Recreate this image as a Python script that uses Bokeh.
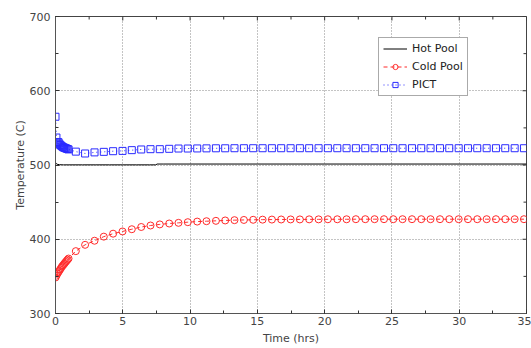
import math
from bokeh.plotting import figure
from bokeh.models import Range1d, SingleIntervalTicker, Legend, LegendItem
from bokeh.embed import file_html
from bokeh.resources import INLINE

# ---- data ----
hot_t = [0.0, 0.05, 0.12, 0.3, 0.6, 1.0, 2.0, 3.0, 4.0, 5.0, 6.0, 7.0, 7.45, 7.55, 8.0, 10.0, 15.0, 20.0, 25.0, 30.0, 35.0]
hot_T = [503.5, 502.0, 501.0, 500.4, 500.2, 500.2, 500.2, 500.2, 500.2, 500.2, 500.2, 500.2, 500.2, 501.3, 501.3, 501.3, 501.3, 501.3, 501.3, 501.3, 501.3]

marker_t = [0.0, 0.07, 0.14, 0.21, 0.28, 0.35, 0.42, 0.49, 0.56, 0.63, 0.69, 0.76, 0.83, 0.90, 0.97,
            1.51, 2.20, 2.90, 3.59, 4.28, 4.98, 5.67, 6.37, 7.06, 7.75, 8.45, 9.14, 9.83, 10.53,
            11.22, 11.92, 12.61, 13.30, 14.00, 14.69, 15.39, 16.08, 16.77, 17.47, 18.16, 18.85,
            19.55, 20.24, 20.94, 21.63, 22.32, 23.02, 23.71, 24.41, 25.10, 25.79, 26.49, 27.18,
            27.87, 28.57, 29.26, 29.96, 30.65, 31.34, 32.04, 32.73, 33.42, 34.12, 34.81]

cold_T = [348.5, 351.0, 353.5, 355.5, 357.5, 359.5, 361.5, 363.5, 365.0, 366.5, 368.0, 369.5, 371.0, 372.5, 374.0,
          384.0, 392.5, 398.0, 403.5, 407.5, 410.5, 413.5, 416.5, 418.5, 420.0, 421.2, 422.1, 423.0, 423.8,
          424.3, 424.8, 425.3, 425.7, 426.0, 426.2, 426.4, 426.5, 426.6, 426.7, 426.7, 426.8,
          426.8, 426.9, 426.9, 426.9, 427.0, 427.0, 427.0, 427.0, 427.0, 427.0, 427.0, 427.0,
          427.0, 427.0, 427.0, 427.0, 427.0, 427.0, 427.0, 427.0, 427.0, 427.0, 427.0]

pict_start_T = 600.0
pict_T = [565.0, 537.0, 529.0, 531.0, 529.0, 527.0, 526.0, 525.0, 524.0, 523.5, 523.0, 522.5, 522.0, 521.5, 521.0,
          518.0, 515.5, 517.0, 517.7, 518.6, 519.0, 520.0, 520.9, 521.3, 521.3, 521.8, 522.2, 522.2, 522.3,
          522.4, 522.5, 522.5, 522.6, 522.6, 522.6, 522.6, 522.6, 522.6, 522.6, 522.6, 522.6,
          522.6, 522.6, 522.6, 522.6, 522.6, 522.6, 522.6, 522.6, 522.6, 522.6, 522.6, 522.6,
          522.6, 522.6, 522.6, 522.6, 522.6, 522.6, 522.6, 522.6, 522.6, 522.6, 522.6]

x_major = [0, 5, 10, 15, 20, 25, 30, 35]
x_minor = [2.5, 7.5, 12.5, 17.5, 22.5, 27.5, 32.5]
y_major = [300, 400, 500, 600, 700]
y_minor = [350, 450, 550, 650]
x_min, x_max = 0, 35
y_min, y_max = 300, 700

x_label = "Time (hrs)"
y_label = "Temperature (C)"
names = ["Hot Pool", "Cold Pool", "PICT"]

FONT = "DejaVu Sans"
TXT = "#444444"

p = figure(width=531, height=348, output_backend="svg", toolbar_location=None,
           x_range=Range1d(x_min, x_max), y_range=Range1d(y_min, y_max),
           x_axis_label=x_label, y_axis_label=y_label)
p.min_border_left = 55
p.min_border_right = 5
p.min_border_top = 16
p.min_border_bottom = 35
p.background_fill_color = "white"
p.border_fill_color = "white"
p.outline_line_color = "#444444"
p.outline_line_width = 1

p.xaxis.ticker = SingleIntervalTicker(interval=5, num_minor_ticks=2)
p.yaxis.ticker = SingleIntervalTicker(interval=100, num_minor_ticks=2)

for ax in [p.xaxis[0], p.yaxis[0]]:
    ax.major_tick_in = 4
    ax.major_tick_out = 0
    ax.minor_tick_in = 3
    ax.minor_tick_out = 0
    ax.axis_line_color = "#555555"
    ax.major_tick_line_color = "#333333"
    ax.minor_tick_line_color = "#333333"
    ax.major_label_text_font = FONT
    ax.major_label_text_font_size = "11px"
    ax.major_label_text_color = TXT
    ax.axis_label_text_font = FONT
    ax.axis_label_text_font_size = "11px"
    ax.axis_label_text_font_style = "normal"
    ax.axis_label_text_color = TXT

p.xaxis.major_label_standoff = 3
p.xaxis.axis_label_standoff = 4
p.yaxis.major_label_standoff = 5
p.yaxis.axis_label_standoff = 0

p.xgrid.grid_line_color = "#888888"
p.ygrid.grid_line_color = "#888888"
p.xgrid.grid_line_dash = "1 2"
p.ygrid.grid_line_dash = "1 2"

# mirrored inward ticks on the top and right frame edges (clipped dashes)
p.scatter(x_major, [y_max] * len(x_major), marker="dash", angle=math.pi / 2, size=8,
          line_color="#333333", line_width=1)
p.scatter(x_minor, [y_max] * len(x_minor), marker="dash", angle=math.pi / 2, size=6,
          line_color="#333333", line_width=1)
p.scatter([x_max] * len(y_major), y_major, marker="dash", size=8,
          line_color="#333333", line_width=1)
p.scatter([x_max] * len(y_minor), y_minor, marker="dash", size=6,
          line_color="#333333", line_width=1)

r_hot = p.line(hot_t, hot_T, line_color="black", line_width=1)

r_cold_l = p.line(marker_t, cold_T, line_color="#ff2a2a", line_width=1, line_dash="4 3")
r_cold_m = p.scatter(marker_t, cold_T, marker="circle", size=7, fill_color=None,
                     line_color="#ff2a2a", line_width=1)

pict_line_t = [0.0] + marker_t
pict_line_T = [pict_start_T] + pict_T
r_pict_l = p.line(pict_line_t, pict_line_T, line_color="#2a2aff", line_width=1, line_dash="1 3")
r_pict_m = p.scatter(marker_t, pict_T, marker="square", size=7, fill_color=None,
                     line_color="#2a2aff", line_width=1)

legend = Legend(items=[
    LegendItem(label=names[0], renderers=[r_hot]),
    LegendItem(label=names[1], renderers=[r_cold_l, r_cold_m]),
    LegendItem(label=names[2], renderers=[r_pict_l, r_pict_m]),
], location=(323, 217))
legend.label_text_font = FONT
legend.label_text_font_size = "11px"
legend.label_text_color = "#222222"
legend.border_line_color = "#555555"
legend.border_line_width = 1
legend.background_fill_alpha = 1
legend.padding = 4
legend.spacing = 5
legend.margin = 0
legend.glyph_width = 24
legend.glyph_height = 13
legend.label_height = 13
legend.label_standoff = 5
p.add_layout(legend, "center")

open("out.html", "w").write(file_html(p, INLINE))
